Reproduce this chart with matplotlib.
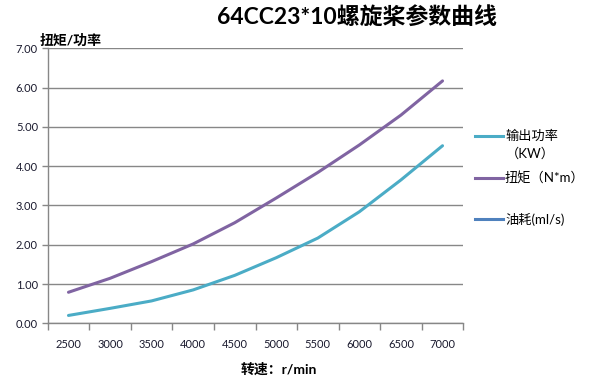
import numpy as np
import matplotlib
matplotlib.use("Agg")
import matplotlib.pyplot as plt
from matplotlib.lines import Line2D

plt.rcParams['font.family'] = ['Lato', 'Noto Sans CJK SC', 'DejaVu Sans']

# data
speeds = ["2500", "3000", "3500", "4000", "4500", "5000", "5500", "6000", "6500", "7000"]
power_kw = [0.20, 0.38, 0.57, 0.85, 1.22, 1.67, 2.17, 2.84, 3.65, 4.52]
torque_nm = [0.79, 1.145, 1.57, 2.02, 2.56, 3.19, 3.84, 4.54, 5.30, 6.17]
fuel_mls = [np.nan] * len(speeds)  # empty series, legend only

series_names = ["输出功率\n（KW）", "扭矩（N*m）", "油耗(ml/s)"]
series_colors = ["#4bacc6", "#8064a2", "#4f81bd"]

W, H = 591, 377
fig = plt.figure(figsize=(W / 100, H / 100), dpi=100)
ax = fig.add_axes([47.7 / W, 1 - 323.3 / H, (463.3 - 47.7) / W, (323.3 - 48.3) / H])

x = np.arange(len(speeds))
for vals, c in zip([power_kw, torque_nm, fuel_mls], series_colors):
    ax.plot(x, vals, color=c, lw=2.2, solid_capstyle="round", zorder=3)

ax.set_xlim(-0.5, len(speeds) - 0.5)
ax.set_ylim(0, 7)
ax.set_yticks(np.arange(0, 7.01, 1))
ax.set_yticklabels([f"{v:.2f}" for v in np.arange(0, 7.01, 1)])
ax.yaxis.grid(True, color="#878787", lw=1.0)
ax.set_axisbelow(True)

# category ticks at boundaries, labels at centres
ax.set_xticks(np.arange(-0.5, len(speeds), 1))
ax.set_xticklabels([])
ax.set_xticks(x, minor=True)
ax.set_xticklabels(speeds, minor=True)
ax.tick_params(axis="x", which="major", length=5, color="#878787", width=1)
ax.tick_params(axis="x", which="minor", length=0, pad=11, labelsize=8, labelcolor="#1a1a2e")
ax.tick_params(axis="y", length=4, color="#878787", width=1, labelsize=8,
               labelcolor="#1a1a2e", pad=3)

for s in ["top", "right"]:
    ax.spines[s].set_visible(False)
for s in ["left", "bottom"]:
    ax.spines[s].set_color("#878787")
    ax.spines[s].set_linewidth(1)

fig.text(357 / W, 1 - 17 / H, "64CC23*10螺旋桨参数曲线", ha="center", va="center",
         fontsize=16.5, fontweight="bold")
fig.text(40 / W, 1 - 40 / H, "扭矩/功率", ha="left", va="center",
         fontsize=10, fontweight="bold")
fig.text(279 / W, 1 - 369 / H, "转速：r/min", ha="center", va="center",
         fontsize=10, fontweight="bold")

# legend drawn by hand to match the Excel layout
leg_y = [135.7, 178.3, 219]
for name, c, yy in zip(series_names, series_colors, leg_y):
    fig.add_artist(Line2D([475 / W, 503 / W], [1 - yy / H, 1 - yy / H], color=c, lw=2.2))
    lines = name.split("\n")
    fig.text(505 / W, 1 - yy / H, lines[0], ha="left", va="center", fontsize=9.5)
    if len(lines) > 1:
        fig.text(530 / W, 1 - (yy + 18) / H, lines[1], ha="center", va="center", fontsize=9.5)

fig.savefig("out.png", dpi=100)
